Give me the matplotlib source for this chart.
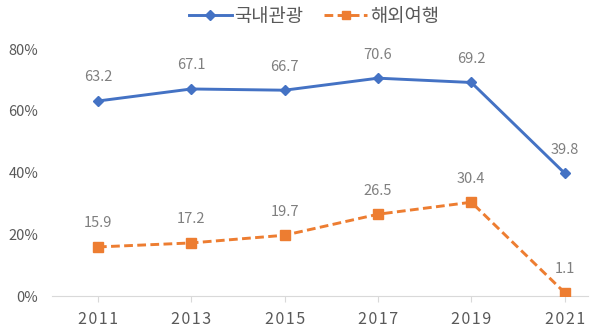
import matplotlib
matplotlib.use("Agg")
import matplotlib.pyplot as plt

plt.rcParams["font.family"] = ["Noto Sans CJK KR", "DejaVu Sans"]

years = ["2011", "2013", "2015", "2017", "2019", "2021"]
domestic = [63.2, 67.1, 66.7, 70.6, 69.2, 39.8]
overseas = [15.9, 17.2, 19.7, 26.5, 30.4, 1.1]

BLUE = "#4472C4"
ORANGE = "#ED7D31"
TEXT = "#595959"
LABEL = "#7f7f7f"

fig = plt.figure(figsize=(6, 3.3), dpi=100)
ax = fig.add_axes([0.087, 0.103, 0.893, 0.748])

x = range(len(years))
ax.plot(x, domestic, color=BLUE, lw=2.1, marker="D", ms=5.5, label="국내관광")
ax.plot(x, overseas, color=ORANGE, lw=2.1, ls=(0, (3, 1.5)), marker="s", ms=7,
        label="해외여행")

for i, v in enumerate(domestic):
    ax.annotate(f"{v}", (i, v), xytext=(0, 12), textcoords="offset points",
                ha="center", va="bottom", color=LABEL, fontsize=10.5)
for i, v in enumerate(overseas):
    ax.annotate(f"{v}", (i, v), xytext=(0, 12), textcoords="offset points",
                ha="center", va="bottom", color=LABEL, fontsize=10.5)

ax.set_xlim(-0.49, 5.25)
ax.set_ylim(0, 80)
ax.set_xticks(list(x))
# slightly letter-spaced years, like the source
ax.set_xticklabels(["\u200a".join(y) for y in years])
ax.set_yticks([0, 20, 40, 60, 80])
ax.set_yticklabels(["0%", "20%", "40%", "60%", "80%"])
ax.tick_params(axis="y", length=0, labelsize=10.5, labelcolor=TEXT, pad=10)
ax.tick_params(axis="x", length=4, color="#d9d9d9", labelsize=11.5,
               labelcolor=TEXT, pad=7)

for s in ("top", "right", "left"):
    ax.spines[s].set_visible(False)
ax.spines["bottom"].set_color("#d9d9d9")
ax.spines["bottom"].set_zorder(0)

fig.legend(loc="center", bbox_to_anchor=(0.523, 0.95), ncol=2, frameon=False,
           fontsize=13.5, labelcolor=TEXT, handlelength=2.3, columnspacing=1.1,
           handletextpad=0.15, markerscale=0.85)

fig.savefig("out.png", dpi=100)
